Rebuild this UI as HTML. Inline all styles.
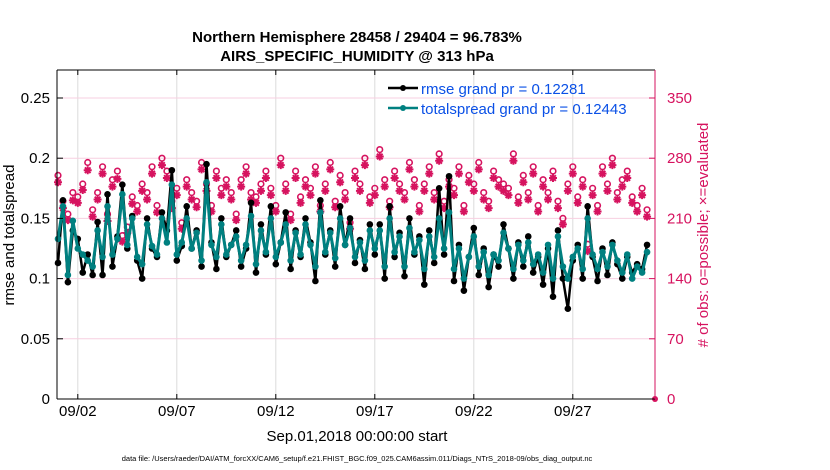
<!DOCTYPE html>
<html><head><meta charset="utf-8"><style>
body{margin:0;background:#fff}
svg{display:block;font-family:"Liberation Sans",sans-serif}
</style></head><body>
<svg id="chart" width="830" height="470" viewBox="0 0 830 470">
<text x="357" y="42" text-anchor="middle" font-size="15" font-weight="bold">Northern Hemisphere 28458 / 29404 = 96.783%</text>
<text x="357" y="61" text-anchor="middle" font-size="15" font-weight="bold">AIRS_SPECIFIC_HUMIDITY @ 313 hPa</text>
<g id="grid"></g>
<g id="obs"></g>
<g id="lines"></g>
<g id="axes"></g>
<text transform="translate(14,235) rotate(-90)" text-anchor="middle" font-size="15">rmse and totalspread</text>
<text transform="translate(708,235) rotate(-90)" text-anchor="middle" font-size="15" fill="#d6135f"># of obs: o=possible; ×=evaluated</text>
<text x="357" y="441" text-anchor="middle" font-size="15">Sep.01,2018 00:00:00 start</text>
<text x="357" y="461" text-anchor="middle" font-size="7.5">data file: /Users/raeder/DAI/ATM_forcXX/CAM6_setup/f.e21.FHIST_BGC.f09_025.CAM6assim.011/Diags_NTrS_2018-09/obs_diag_output.nc</text>
<g>
<line x1="388" y1="88" x2="418" y2="88" stroke="#000" stroke-width="2.5"/><circle cx="403" cy="88" r="3" fill="#000"/>
<text x="421" y="94" font-size="15" fill="#0a50e6">rmse grand pr = 0.12281</text>
<line x1="388" y1="108" x2="418" y2="108" stroke="#008080" stroke-width="2.5"/><circle cx="403" cy="108" r="3" fill="#008080"/>
<text x="421" y="114" font-size="15" fill="#0a50e6">totalspread grand pr = 0.12443</text>
</g>
</svg>
<script>
const rmse=[0.113,0.165,0.097,0.140,0.133,0.105,0.120,0.103,0.147,0.103,0.170,0.110,0.135,0.178,0.125,0.152,0.115,0.100,0.150,0.125,0.118,0.155,0.140,0.190,0.115,0.127,0.160,0.125,0.140,0.110,0.195,0.130,0.108,0.150,0.118,0.128,0.140,0.110,0.125,0.163,
0.105,0.145,0.120,0.160,0.112,0.130,0.155,0.108,0.140,0.118,0.150,0.130,0.098,0.165,0.120,0.140,0.110,0.160,0.128,0.150,0.113,0.132,0.108,0.145,0.120,0.145,0.100,0.160,0.118,0.138,0.102,0.150,0.120,0.135,0.095,0.140,0.113,0.175,0.120,0.185,
0.098,0.128,0.090,0.118,0.142,0.103,0.125,0.093,0.120,0.110,0.145,0.125,0.100,0.130,0.110,0.135,0.105,0.118,0.095,0.125,0.085,0.140,0.100,0.075,0.115,0.128,0.100,0.160,0.118,0.098,0.125,0.103,0.130,0.112,0.100,0.118,0.105,0.112,0.108,0.128];
const spread=[0.133,0.160,0.103,0.148,0.125,0.120,0.115,0.110,0.140,0.118,0.160,0.120,0.133,0.170,0.128,0.150,0.118,0.112,0.145,0.127,0.120,0.150,0.130,0.178,0.120,0.130,0.150,0.125,0.138,0.115,0.180,0.128,0.118,0.145,0.120,0.128,0.135,0.115,0.128,0.152,
0.112,0.140,0.122,0.150,0.118,0.130,0.145,0.115,0.138,0.120,0.145,0.128,0.110,0.155,0.122,0.138,0.117,0.150,0.128,0.142,0.118,0.130,0.115,0.140,0.125,0.140,0.110,0.150,0.122,0.135,0.110,0.142,0.122,0.132,0.108,0.135,0.118,0.150,0.125,0.155,
0.108,0.125,0.100,0.118,0.135,0.110,0.122,0.103,0.120,0.115,0.138,0.125,0.108,0.128,0.115,0.130,0.112,0.120,0.105,0.128,0.100,0.135,0.110,0.100,0.118,0.125,0.108,0.150,0.120,0.108,0.122,0.110,0.128,0.115,0.105,0.120,0.100,0.110,0.105,0.122];
const possible=[260,230,215,240,235,250,275,220,240,270,215,255,265,190,200,235,225,250,240,270,225,280,265,230,245,205,255,240,230,275,250,225,265,245,255,240,215,255,270,240,
235,250,265,245,225,280,250,215,265,235,255,245,270,225,250,275,230,260,240,205,265,250,280,235,245,290,255,230,265,250,240,275,255,225,250,270,240,285,230,255,
245,270,225,260,250,275,240,230,265,255,250,245,285,235,260,240,270,225,255,240,265,230,210,250,270,235,255,180,245,225,270,250,280,240,255,265,235,225,245,220];
const evaluated=[252,222,208,231,228,243,266,212,232,262,207,247,256,183,193,227,218,242,232,262,217,272,257,222,237,198,247,232,223,267,242,218,257,237,247,232,208,247,262,232,
228,242,257,237,218,272,242,208,257,228,247,237,262,218,242,267,223,252,232,198,257,242,272,228,237,282,247,223,257,242,232,267,247,218,242,262,232,277,222,247,
237,262,218,252,242,267,232,222,257,247,242,237,277,228,252,232,262,218,247,232,257,222,203,242,262,228,247,172,237,218,262,242,272,232,247,257,228,218,237,212];
const xTicks=[1,6,11,16,21,26];
const xTickLabels=["09/02","09/07","09/12","09/17","09/22","09/27"];
const yTicks=[0,0.05,0.1,0.15,0.2,0.25];
const yTickLabels=["0","0.05","0.1","0.15","0.2","0.25"];
const rTicks=[0,70,140,210,280,350];
const rTickLabels=["0","70","140","210","280","350"];

const X0=57,X1=655,Y0=399,Y1=70;
const xs=d=>X0+1+d*19.8;
const ys=v=>Y0-v*1204;
const yr=v=>Y0-v*(301/350);
const NS="http://www.w3.org/2000/svg";
function mk(p,t,a){const e=document.createElementNS(NS,t);for(const k in a)e.setAttribute(k,a[k]);p.appendChild(e);return e;}
const grid=document.getElementById('grid'),axes=document.getElementById('axes'),obs=document.getElementById('obs'),lines=document.getElementById('lines');
mk(grid,'rect',{x:X0,y:Y1,width:X1-X0,height:Y0-Y1,fill:'#fff'});
xTicks.forEach((d,i)=>{const x=xs(d);
 const g=mk(grid,'line',{x1:x,y1:Y1,x2:x,y2:Y0,stroke:'#dcdcdc','stroke-width':1});
 
 
 mk(axes,'line',{x1:x,y1:Y0,x2:x,y2:Y0-5,stroke:'#000'});
 mk(axes,'line',{x1:x,y1:Y1,x2:x,y2:Y1+5,stroke:'#000'});
 const t=mk(axes,'text',{x:x,y:Y0+17,'text-anchor':'middle','font-size':15});t.textContent=xTickLabels[i];
 
 
});
rTicks.forEach((v,i)=>{const y=yr(v);
 if(v>0){const g=mk(grid,'line',{x1:X0,y1:y,x2:X1,y2:y,stroke:'#f7cfe0','stroke-width':1});
 
 }
 mk(axes,'line',{x1:X1,y1:y,x2:X1-6,y2:y,stroke:'#d6135f'});
 const t=mk(axes,'text',{x:X1+12,y:y+5,'font-size':15,fill:'#d6135f'});t.textContent=rTickLabels[i];
 
 
});
yTicks.forEach((v,i)=>{const y=ys(v);
 mk(axes,'line',{x1:X0,y1:y,x2:X0+6,y2:y,stroke:'#000'});
 const t=mk(axes,'text',{x:X0-7,y:y+5,'text-anchor':'end','font-size':15});t.textContent=yTickLabels[i];
 
 
});
mk(axes,'line',{x1:X0,y1:Y1,x2:X0,y2:Y0,stroke:'#000'});
mk(axes,'line',{x1:X0,y1:Y0,x2:X1,y2:Y0,stroke:'#000'});
mk(axes,'line',{x1:X0,y1:Y1,x2:X1,y2:Y1,stroke:'#000'});
mk(axes,'line',{x1:X1,y1:Y1,x2:X1,y2:Y0,stroke:'#d6135f'});
const ptx=i=>xs(i*0.25);
function star(x,y){let d='';for(let k=0;k<4;k++){const a=k*Math.PI/4;const dx=4*Math.cos(a),dy=4*Math.sin(a);d+=`M${x-dx},${y-dy}L${x+dx},${y+dy}`;}return d;}
possible.forEach((v,i)=>{const c=mk(obs,'circle',{cx:ptx(i),cy:yr(v),r:2.8,fill:'none',stroke:'#d6135f','stroke-width':1.6});
 
 });
evaluated.forEach((v,i)=>{const p=mk(obs,'path',{d:star(ptx(i),yr(v)),stroke:'#d6135f','stroke-width':2});
 
 });
function series(arr,col,w,name){
 const pl=mk(lines,'polyline',{points:arr.map((v,i)=>ptx(i)+','+ys(v)).join(' '),fill:'none',stroke:col,'stroke-width':w,'stroke-linejoin':'round'});
 
 
 arr.forEach((v,i)=>{const c=mk(lines,'circle',{cx:ptx(i),cy:ys(v),r:3.3,fill:col});
 
 });
}
series(rmse,'#000',2.5,'rmse');
series(spread,'#008080',3,'totalspread');
const e0=mk(obs,'circle',{cx:X1,cy:Y0,r:3,fill:'#d6135f'});


</script>
</body></html>
